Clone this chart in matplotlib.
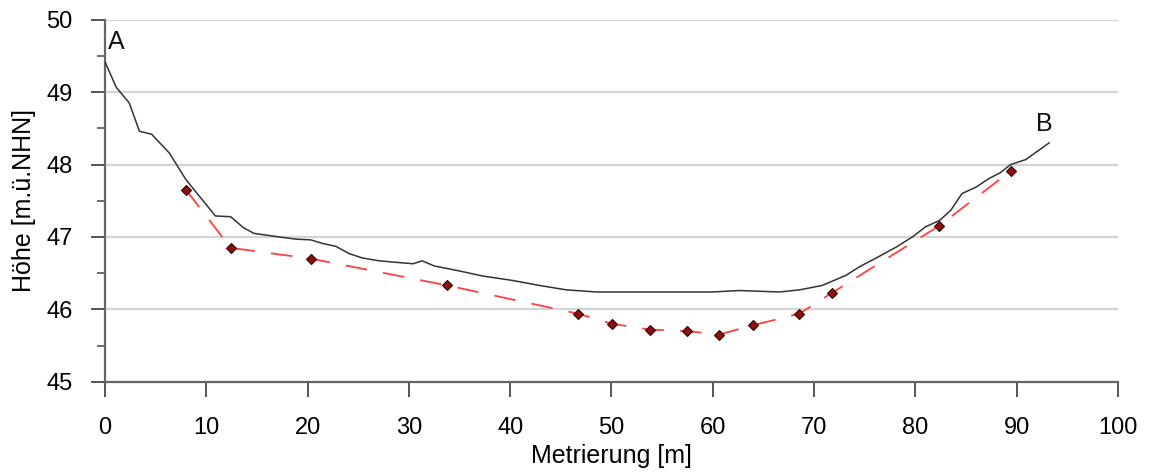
import matplotlib
matplotlib.use("Agg")
import matplotlib.pyplot as plt
from matplotlib.ticker import MultipleLocator

plt.rcParams['font.family'] = ['Liberation Sans', 'DejaVu Sans']

# Gelände (solid line)
terrain_x = [0.0, 1.1, 2.4, 3.4, 4.6, 6.35, 8.0, 10.9, 12.4, 13.65, 14.7, 17.2, 18.85,
             20.3, 21.5, 22.8, 24.1, 25.4, 27.1, 28.7, 30.4, 31.3, 32.5, 35.0, 37.3,
             40.2, 42.9, 45.5, 47.5, 48.5, 55.0, 60.0, 62.6, 66.6, 68.6, 70.8, 73.15,
             74.5, 76.4, 78.1, 79.7, 81.0, 82.4, 83.5, 84.6, 86.0, 87.3, 88.4, 89.4,
             90.9, 93.2]
terrain_y = [49.42, 49.07, 48.85, 48.46, 48.42, 48.16, 47.79, 47.29, 47.28, 47.13, 47.05,
             47.00, 46.97, 46.96, 46.91, 46.87, 46.77, 46.71, 46.67, 46.65, 46.63, 46.67,
             46.60, 46.53, 46.46, 46.40, 46.33, 46.27, 46.25, 46.24, 46.24, 46.24, 46.26,
             46.24, 46.27, 46.33, 46.47, 46.59, 46.73, 46.86, 47.00, 47.14, 47.23, 47.37,
             47.60, 47.69, 47.81, 47.89, 48.00, 48.07, 48.30]

# Messpunkte (dashed line with markers)
points_x = [8.0, 12.4, 20.35, 33.8, 46.7, 50.05, 53.8, 57.45, 60.6, 63.97, 68.55,
            71.8, 82.3, 89.4]
points_y = [47.65, 46.85, 46.70, 46.33, 45.94, 45.80, 45.72, 45.70, 45.65, 45.78,
            45.94, 46.23, 47.15, 47.91]

x_ticks = [0, 10, 20, 30, 40, 50, 60, 70, 80, 90, 100]
y_ticks = [45, 46, 47, 48, 49, 50]

fig = plt.figure(figsize=(11.49, 4.73), dpi=100)
ax = fig.add_axes([0.0914, 0.193, 0.8816, 0.765])

ax.set_xlim(0, 100)
ax.set_ylim(45, 50)
ax.set_xticks(x_ticks)
ax.set_yticks(y_ticks)
ax.yaxis.set_minor_locator(MultipleLocator(0.5))

ax.grid(axis='y', which='major', color='#d4d4d4', linewidth=1.6, zorder=0)
ax.set_axisbelow(True)

ax.plot(terrain_x, terrain_y, color='#333333', linewidth=1.1, zorder=3)
ax.plot(points_x, points_y, color='#ff4040', linewidth=1.3, dashes=(12, 9), zorder=2)
ax.plot(points_x, points_y, linestyle='none', marker='D', markersize=5.5,
        markerfacecolor='#8b1010', markeredgecolor='#3a0000', markeredgewidth=0.8, zorder=4)

ax.text(0.25, 49.69, 'A', fontsize=18, ha='left', va='center', color='#111111')
ax.text(92.7, 48.56, 'B', fontsize=18, ha='center', va='center', color='#111111')

for side in ['top', 'right']:
    ax.spines[side].set_visible(False)
for side in ['left', 'bottom']:
    ax.spines[side].set_color('#666666')
    ax.spines[side].set_linewidth(1.6)

ax.tick_params(axis='x', which='major', length=10.5, width=1.4, color='#555555',
               labelsize=17, pad=15, direction='out')
ax.tick_params(axis='y', which='major', length=10, width=1.4, color='#555555',
               labelsize=17, pad=13.5, direction='out')
ax.tick_params(axis='y', which='minor', length=5.5, width=1.2, color='#555555')

ax.set_xlabel('Metrierung [m]', fontsize=18)
ax.set_ylabel('Höhe [m.ü.NHN]', fontsize=18)
ax.xaxis.set_label_coords(0.5, -0.172)
ax.yaxis.set_label_coords(-0.068, 0.5)

fig.savefig('out.png', dpi=100)
